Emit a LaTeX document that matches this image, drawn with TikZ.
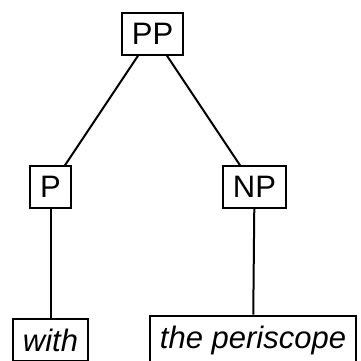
\documentclass[tikz,border=0pt]{standalone}
\usepackage{fontspec}
\setmainfont{Liberation Sans}
\usetikzlibrary{positioning}

\tikzset{
    cat/.style={draw, line width=2pt, inner xsep=10pt, inner ysep=10pt,
        font=\fontsize{31}{37}\selectfont},
    leaf/.style={cat, font=\fontsize{31}{37}\selectfont\itshape},
    branch/.style={line width=2pt}
}

\begin{document}
\begin{tikzpicture}[x=1pt, y=-1pt]
    \useasboundingbox (0,0) rectangle (360,361);

    % Phrases
    \node[cat] (pp) at (152.5,34) {PP};
    \node[cat] (p) at (50.5,187) {P};
    \node[cat] (np) at (254.5,187) {NP};

    % Words
    \node[leaf] (with) at (50.5,340) {with};
    \node[leaf] (periscope) at (253,340) {the periscope};

    % Branches
    \draw[branch] (pp) -- (p);
    \draw[branch] (pp) -- (np);
    \draw[branch] (p) -- (with);
    \draw[branch] (np) -- (periscope);
\end{tikzpicture}
\end{document}
